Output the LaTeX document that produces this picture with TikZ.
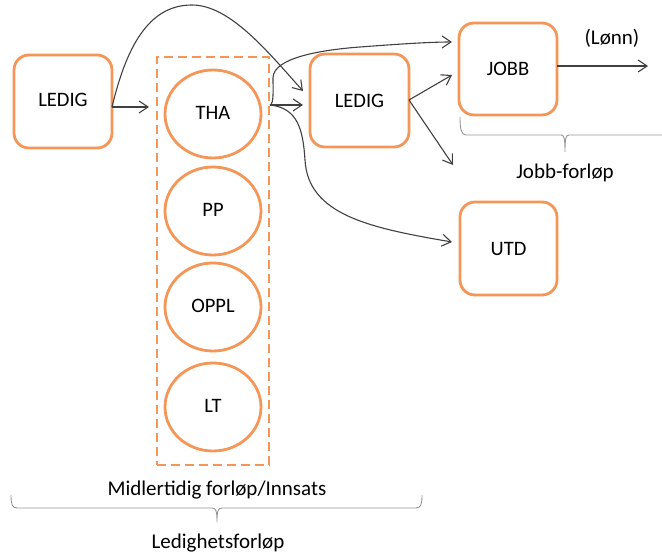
\documentclass[tikz,border=0pt]{standalone}
\usepackage{fontspec}
\setmainfont{Carlito}
\usetikzlibrary{arrows.meta,shapes.geometric}
\definecolor{orng}{RGB}{244,150,88}
\definecolor{arr}{RGB}{64,64,64}
\definecolor{brc}{RGB}{150,150,150}
\newcommand{\up}[1]{\raisebox{3pt}{#1}}
\tikzset{
  rbox/.style={draw=orng,line width=2.8pt,rounded corners=15pt,fill=white,inner sep=0pt,font=\fontsize{20.5}{24}\selectfont},
  oval/.style={ellipse,draw=orng,line width=2.8pt,minimum width=96pt,minimum height=88pt,inner sep=0pt,font=\fontsize{20.5}{24}\selectfont},
  dbox/.style={draw=orng,line width=2.6pt,dash pattern=on 9pt off 5pt,minimum width=112pt,minimum height=408pt,inner sep=0pt},
  conn/.style={draw=arr,line width=1.1pt,-{Straight Barb[length=9pt,width=12pt]}},
  brace/.style={draw=brc,line width=0.9pt},
  lbl/.style={font=\fontsize{21}{25}\selectfont,inner sep=0pt}
}
\begin{document}
\begin{tikzpicture}[x=1pt,y=-1pt]
\useasboundingbox (0,0) rectangle (662,556);
% nodes
\node[rbox,minimum width=98pt,minimum height=93pt] (ledig1) at (63,101.5) {\up{LEDIG}};
\node[dbox] (grp) at (213,261) {};
\node[oval] (tha) at (213,114) {\up{THA}};
\node[oval] (pp) at (213,211) {\up{PP}};
\node[oval] (oppl) at (213,307) {\up{OPPL}};
\node[oval] (lt) at (213,407) {\up{LT}};
\node[rbox,minimum width=99pt,minimum height=93pt] (ledig2) at (359.5,100.5) {LEDIG};
\node[rbox,minimum width=98pt,minimum height=92pt] (jobb) at (508,69) {JOBB};
\node[rbox,minimum width=97pt,minimum height=93pt] (utd) at (508.5,248.5) {UTD};
\node[lbl] (lonn) at (612,38) {(Lønn)};
\node[lbl] (jf) at (565,173) {Jobb-forløp};
\node[lbl] (mf) at (217,490) {Midlertidig forløp/Innsats};
\node[lbl] (lf) at (218,543) {Ledighetsforløp};
% free ends
\coordinate (o1) at (112,107);
\coordinate (e1) at (149,107);
\coordinate (e2) at (303,91);
\coordinate (o3) at (270,105);
\coordinate (e3) at (303,105);
\coordinate (e4) at (452,42);
\coordinate (e5) at (452,242);
\coordinate (o6) at (409,100);
\coordinate (e6) at (452,75);
\coordinate (e7) at (453,165);
\coordinate (o8) at (557,66);
\coordinate (e8) at (648,66);
% connectors
\draw[conn] (o1) -- (e1);
\draw[conn] (o1) .. controls (128,40) and (152,5) .. (192,5) .. controls (230,5) and (268,52) .. (e2);
\draw[conn] (o3) -- (e3);
\draw[conn] (o3) .. controls (274,104) and (273,90) .. (273,78) .. controls (273,58) and (320,50) .. (360,47) .. controls (400,44) and (430,42) .. (e4);
\draw[conn] (o3) .. controls (298,108) and (303,130) .. (305,160) .. controls (308,215) and (370,228) .. (e5);
\draw[conn] (o6) -- (e6);
\draw[conn] (o6) -- (e7);
\draw[conn] (o8) -- (e8);
% braces
\draw[brace] (460,117) .. controls (460,128) and (461,135) .. (466,135) -- (561,135) .. controls (564,135) and (565,138) .. (565,152) .. controls (565,138) and (566,135) .. (569,135) -- (662,135);
\draw[brace] (11,495) .. controls (11,504) and (12,508) .. (17,508) -- (212,508) .. controls (216,508) and (217,511) .. (217,522) .. controls (217,511) and (218,508) .. (222,508) -- (416,508) .. controls (421,508) and (422,504) .. (422,495);
\end{tikzpicture}
\end{document}
